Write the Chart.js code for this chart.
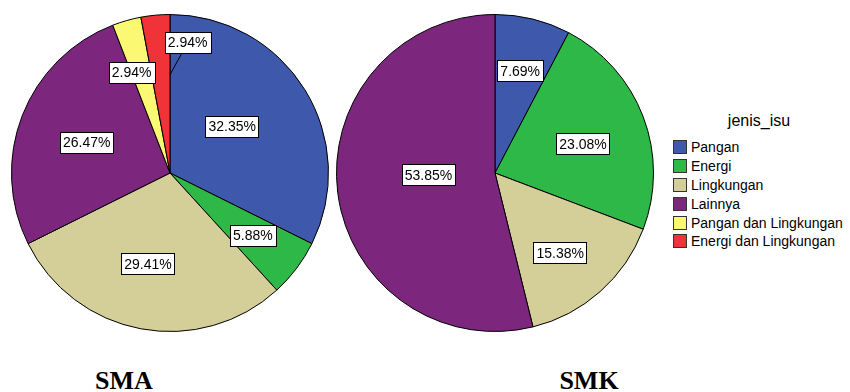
<!DOCTYPE html>
<html>
<head>
<meta charset="utf-8">
<script src="https://cdn.jsdelivr.net/npm/chart.js@4.4.0/dist/chart.umd.min.js"></script>
<style>
  body { margin: 0; background: #fff; width: 850px; height: 392px; position: relative; overflow: hidden; }
  .pie { position: absolute; top: 14px; width: 318px; height: 318px; }
  .caption { position: absolute; top: 366px; font: bold 26px "Liberation Serif", "Times New Roman", serif; color: #000; transform: translateX(-50%); }
  #legend { position: absolute; left: 673px; top: 112px; font: 14px "Liberation Sans", Arial, sans-serif; color: #000; }
  #legend .title { font-size: 16px; text-align: center; width: 172px; margin-bottom: 8px; }
  #legend .item { height: 18.8px; display: flex; align-items: center; white-space: nowrap; }
  #legend .sw { width: 12px; height: 12px; border: 1px solid #333; margin-right: 4px; }
</style>
</head>
<body>
<div class="pie" style="left:11px"><canvas id="smaChart" width="318" height="318"></canvas></div>
<div class="pie" style="left:336px"><canvas id="smkChart" width="318" height="318"></canvas></div>
<div class="caption" style="left:124px">SMA</div>
<div class="caption" style="left:589px">SMK</div>
<div id="legend"></div>

<script>
// categories (jenis_isu) and their colours
const categories = ['Pangan', 'Energi', 'Lingkungan', 'Lainnya', 'Pangan dan Lingkungan', 'Energi dan Lingkungan'];
const colors = ['#3e58ac', '#2eb848', '#d4ce98', '#7c277d', '#fbf873', '#ef3338'];

// percentages per school type
const smaValues = [32.35, 5.88, 29.41, 26.47, 2.94, 2.94];
const smkValues = [7.69, 23.08, 15.38, 53.85, 0, 0];

// Plugin that draws the boxed percentage labels like SPSS does
const boxLabels = {
    id: 'boxLabels',
    afterDatasetsDraw(chart, args, opts) {
        const ctx = chart.ctx;
        const meta = chart.getDatasetMeta(0);
        const values = chart.data.datasets[0].data;
        ctx.save();
        ctx.font = '14px "Liberation Sans", Arial, sans-serif';
        ctx.textAlign = 'center';
        ctx.textBaseline = 'middle';
        meta.data.forEach((arc, i) => {
            if (!values[i]) return;
            const p = arc.getProps(['x', 'y', 'startAngle', 'endAngle', 'outerRadius'], true);
            const a = (p.startAngle + p.endAngle) / 2 + (opts.shift[i] || 0) * Math.PI / 180;
            const r = p.outerRadius * opts.radius[i];
            const x = p.x + Math.cos(a) * r;
            const y = p.y + Math.sin(a) * r;

            // short leader line for labels pushed away from their slice
            if (opts.leader && opts.leader[i]) {
                const r2 = p.outerRadius * 0.62;
                ctx.strokeStyle = '#000';
                ctx.lineWidth = 1;
                ctx.beginPath();
                ctx.moveTo(x, y);
                ctx.lineTo(p.x + Math.cos(p.endAngle) * r2, p.y + Math.sin(p.endAngle) * r2);
                ctx.stroke();
            }

            const text = values[i].toFixed(2) + '%';
            const w = ctx.measureText(text).width + 6;
            const h = 21;
            ctx.fillStyle = '#fff';
            ctx.fillRect(Math.round(x - w / 2), Math.round(y - h / 2), Math.round(w), h);
            ctx.strokeStyle = '#000';
            ctx.strokeRect(Math.round(x - w / 2) + 0.5, Math.round(y - h / 2) + 0.5, Math.round(w), h);
            ctx.fillStyle = '#000';
            ctx.fillText(text, x, y + 1);
        });
        ctx.restore();
    }
};

function makePie(id, values, labelOpts) {
    const ctx = document.getElementById(id).getContext('2d');
    return new Chart(ctx, {
        type: 'pie',
        data: {
            labels: categories,
            datasets: [{
                data: values,
                backgroundColor: colors,
                borderColor: '#000',
                borderWidth: 1
            }]
        },
        options: {
            responsive: false,
            animation: false,
            layout: { padding: 0 },
            plugins: {
                legend: { display: false },
                tooltip: { enabled: false },
                boxLabels: labelOpts
            }
        },
        plugins: [boxLabels]
    });
}

makePie('smaChart', smaValues, {
    radius: [0.49, 0.655, 0.59, 0.56, 0.68, 0.83],
    shift: [-5, 0, 3, -1, -5, 13],
    leader: [false, false, false, false, false, true]
});
makePie('smkChart', smkValues, {
    radius: [0.665, 0.585, 0.65, 0.42, 0, 0],
    shift: [0, 2.5, 2.3, 5.5, 0, 0]
});

// Legend built from the same arrays
const legend = document.getElementById('legend');
legend.innerHTML = '<div class="title">jenis_isu</div>' +
    categories.map((c, i) =>
        `<div class="item"><span class="sw" style="background:${colors[i]}"></span>${c}</div>`
    ).join('');
</script>
</body>
</html>
